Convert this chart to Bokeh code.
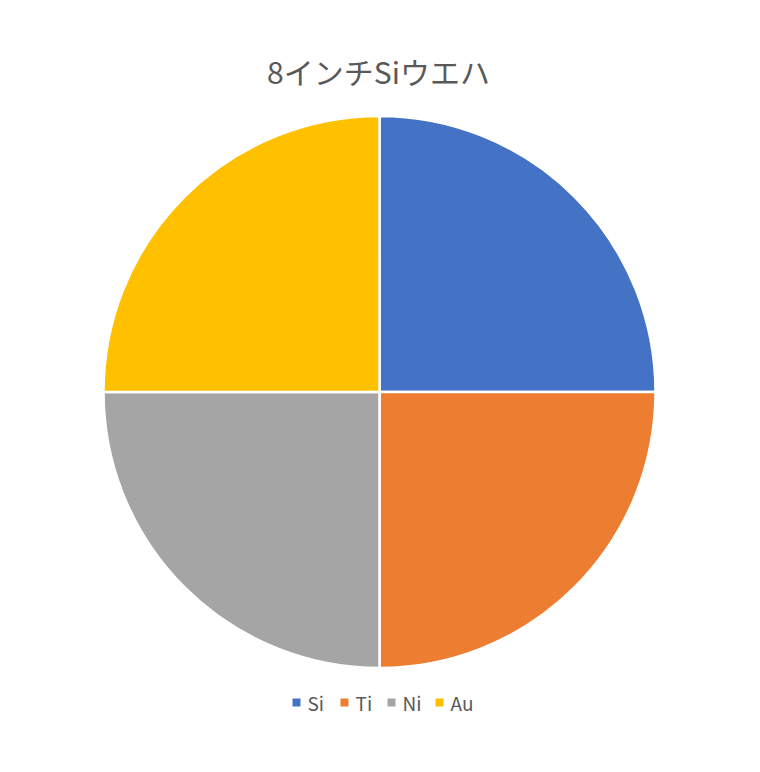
import math
from bokeh.plotting import figure
from bokeh.models import Range1d, ColumnDataSource
from bokeh.core.properties import value
from bokeh.embed import file_html
from bokeh.resources import INLINE

title_text = "8インチSiウエハ"
categories = ["Si", "Ti", "Ni", "Au"]
values = [1, 1, 1, 1]
colors = ["#4472C4", "#ED7D31", "#A5A5A5", "#FFC000"]

W, H = 744, 756
TOP = 764
def py(y):  # page y (down) -> data y (up)
    return TOP - y

p = figure(width=W, height=H, output_backend="svg", toolbar_location=None,
           x_range=Range1d(0, W), y_range=Range1d(TOP - H, TOP),
           min_border=0)
p.axis.visible = False
p.grid.visible = False
p.outline_line_color = None
p.background_fill_color = "white"
p.border_fill_color = "white"

total = sum(values)
cum = [0]
for v in values:
    cum.append(cum[-1] + v)
start = [math.pi / 2 - 2 * math.pi * c / total for c in cum[:-1]]
end = [math.pi / 2 - 2 * math.pi * c / total for c in cum[1:]]
src = ColumnDataSource(dict(cat=categories, val=values, color=colors, start=start, end=end))

cx, cy, r = 379, py(391.5), 276
p.wedge(x=cx, y=cy, radius=r, start_angle="start", end_angle="end", direction="clock",
        fill_color="color", line_color="white", line_width=2.5, source=src)

p.text(x=[378], y=[py(70)], text=[title_text], text_align="center", text_baseline="middle",
       text_font=value("Noto Sans CJK JP"), text_font_size="30px", text_color="#595959")

sq_x = [296, 344, 391, 439]
lab_x = [307, 355, 402, 450]
ly = py(702)
p.scatter(x=sq_x, y=[ly] * 4, marker="square", size=8, fill_color=colors, line_color=None)
p.text(x=lab_x, y=[ly] * 4, text=categories, text_align="left", text_baseline="middle",
       text_font=value("Noto Sans CJK JP"), text_font_size="19px", text_color="#595959")

open("out.html", "w").write(file_html(p, INLINE))
